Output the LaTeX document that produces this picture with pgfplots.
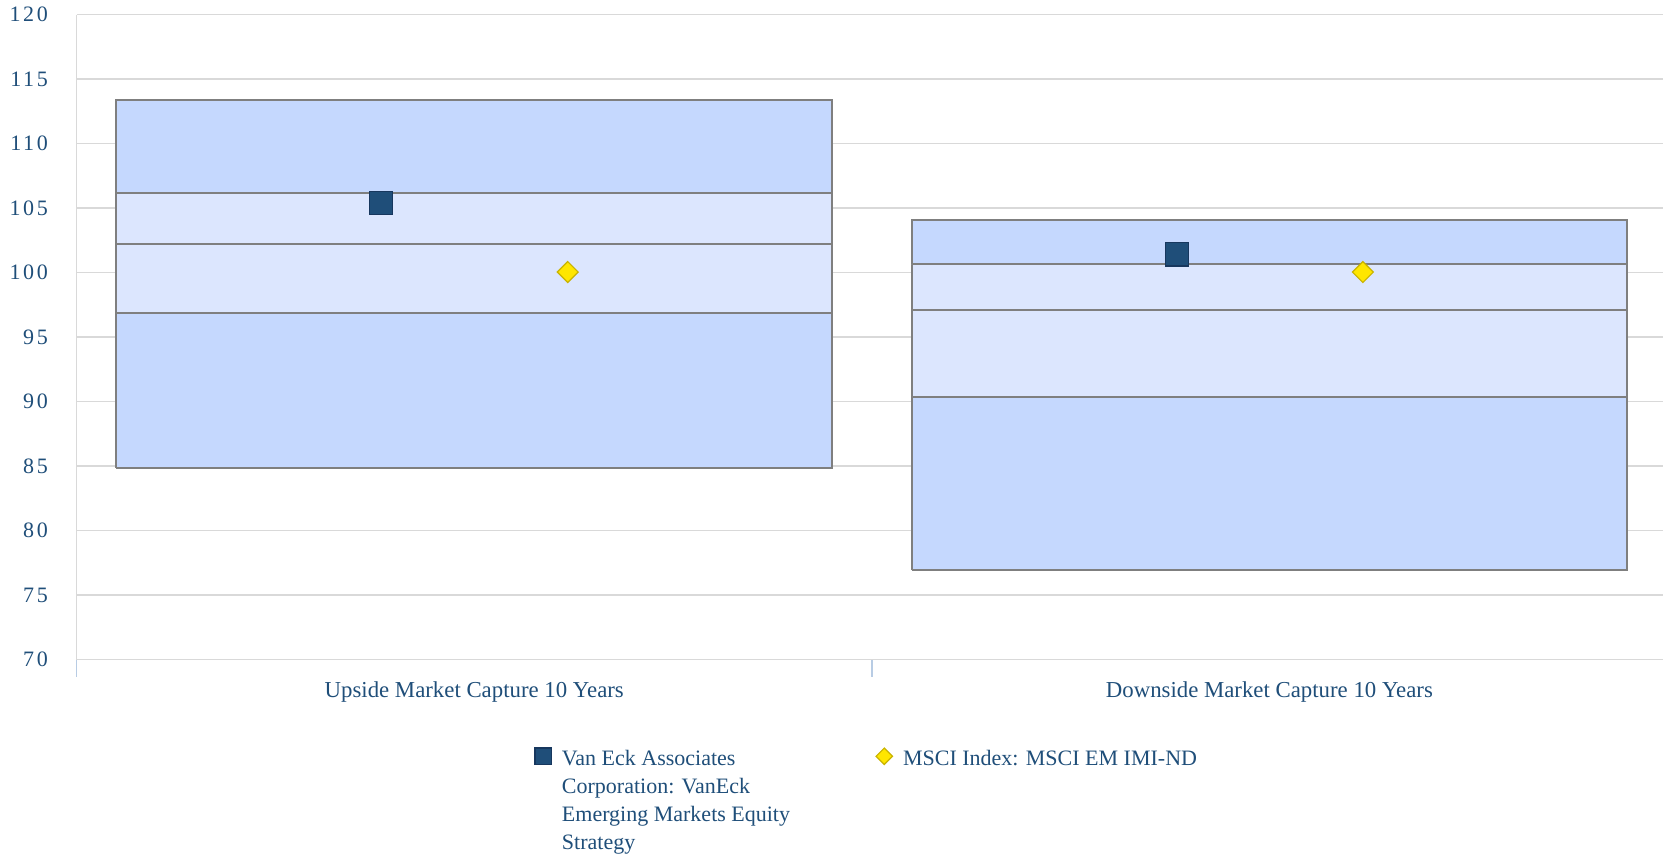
\documentclass[border=0pt]{standalone}
\usepackage{pgfplots}
\pgfplotsset{compat=1.18}
\usepackage{fontspec}
\setmainfont{Liberation Serif}
\newfontfamily\tickfont[LetterSpace=12]{Liberation Serif}
\usetikzlibrary{calc}
\definecolor{txt}{HTML}{1F4E79}
\definecolor{gridc}{HTML}{D9D9D9}
\definecolor{outerc}{HTML}{C5D8FE}
\definecolor{innerc}{HTML}{DCE6FE}
\definecolor{edgec}{HTML}{7F7F7F}
\definecolor{sqc}{HTML}{1F4E79}
\definecolor{sqe}{HTML}{17375E}
\definecolor{dmc}{HTML}{FFE600}
\definecolor{dme}{HTML}{C9B300}
\definecolor{sepc}{HTML}{B8CCE4}
\begin{document}
\begin{tikzpicture}
\begin{axis}[
  scale only axis,
  width=793.15pt, height=322.5pt,
  xmin=-0.5, xmax=1.495,
  ymin=70, ymax=120,
  ytick={70,75,...,120},
  xtick={0,1},
  xticklabels={Upside Market Capture 10 Years, Downside Market Capture 10 Years},
  axis x line*=bottom, axis y line*=left,
  axis line style={draw=gridc, line width=0.75pt},
  ymajorgrids,
  grid style={draw=gridc, line width=0.75pt},
  xtick style={draw=none}, ytick style={draw=none},
  tick label style={text=txt},
  yticklabel style={font=\fontsize{11pt}{13pt}\tickfont, xshift=-10.9pt},
  xticklabel style={font=\fontsize{11.4pt}{13pt}\selectfont, yshift=-7.3pt},
  /pgf/number format/assume math mode=true,
  extra x ticks={-0.5,0.5},
  extra x tick labels={},
  extra x tick style={tick align=outside, major tick length=8.5pt, xtick style={draw=sepc, line width=0.8pt}},
  legend columns=2,
  legend style={draw=none, fill=none, inner sep=0pt, outer sep=0pt,
    at={(axis description cs:0.2889,-0.1344)}, anchor=north west,
    font=\fontsize{11pt}{14pt}\selectfont, text=txt,
    nodes={inner sep=0pt},
    /tikz/every odd column/.append style={column sep=5.3pt},
    /tikz/every even column/.append style={column sep=43pt}},
  legend cell align=left,
  legend image code/.code={\draw[#1] plot coordinates {(0pt,1.5pt)};},
]
% Upside box bands
\addplot[forget plot, fill=outerc, draw=edgec, line width=1pt] coordinates {(-0.45,84.87) (0.45,84.87) (0.45,96.9) (-0.45,96.9) (-0.45,84.87)};
\addplot[forget plot, fill=innerc, draw=edgec, line width=1pt] coordinates {(-0.45,96.9) (0.45,96.9) (0.45,102.19) (-0.45,102.19) (-0.45,96.9)};
\addplot[forget plot, fill=innerc, draw=edgec, line width=1pt] coordinates {(-0.45,102.19) (0.45,102.19) (0.45,106.14) (-0.45,106.14) (-0.45,102.19)};
\addplot[forget plot, fill=outerc, draw=edgec, line width=1pt] coordinates {(-0.45,106.14) (0.45,106.14) (0.45,113.35) (-0.45,113.35) (-0.45,106.14)};
% Downside box bands
\addplot[forget plot, fill=outerc, draw=edgec, line width=1pt] coordinates {(0.55,76.94) (1.45,76.94) (1.45,90.39) (0.55,90.39) (0.55,76.94)};
\addplot[forget plot, fill=innerc, draw=edgec, line width=1pt] coordinates {(0.55,90.39) (1.45,90.39) (1.45,97.11) (0.55,97.11) (0.55,90.39)};
\addplot[forget plot, fill=innerc, draw=edgec, line width=1pt] coordinates {(0.55,97.11) (1.45,97.11) (1.45,100.65) (0.55,100.65) (0.55,97.11)};
\addplot[forget plot, fill=outerc, draw=edgec, line width=1pt] coordinates {(0.55,100.65) (1.45,100.65) (1.45,104.09) (0.55,104.09) (0.55,100.65)};
% Series
\addplot[only marks, mark=square*, mark size=5.8pt, mark options={fill=sqc, draw=sqe, line width=0.6pt},
  legend image post style={mark size=4.1pt}]
  coordinates {(-0.1175,105.38) (0.8836,101.41)};
\addlegendentry{\raisebox{1.6pt}{\begin{tabular}[t]{@{}l@{}}Van Eck Associates\\Corporation: VanEck\\Emerging Markets Equity\\Strategy\end{tabular}}}
\addplot[only marks, mark=square*, mark size=3.7pt, mark options={rotate=45, fill=dmc, draw=dme, line width=0.6pt},
  legend image post style={mark size=2.9pt}]
  coordinates {(0.1175,100.05) (1.1175,100.05)};
\addlegendentry{MSCI Index: MSCI EM IMI-ND}
\end{axis}
\pgfresetboundingbox
\path[use as bounding box] ($(current axis.south west)+(-38.35pt,-98.65pt)$) rectangle ($(current axis.north east)+(0pt,7.35pt)$);
\end{tikzpicture}
\end{document}
